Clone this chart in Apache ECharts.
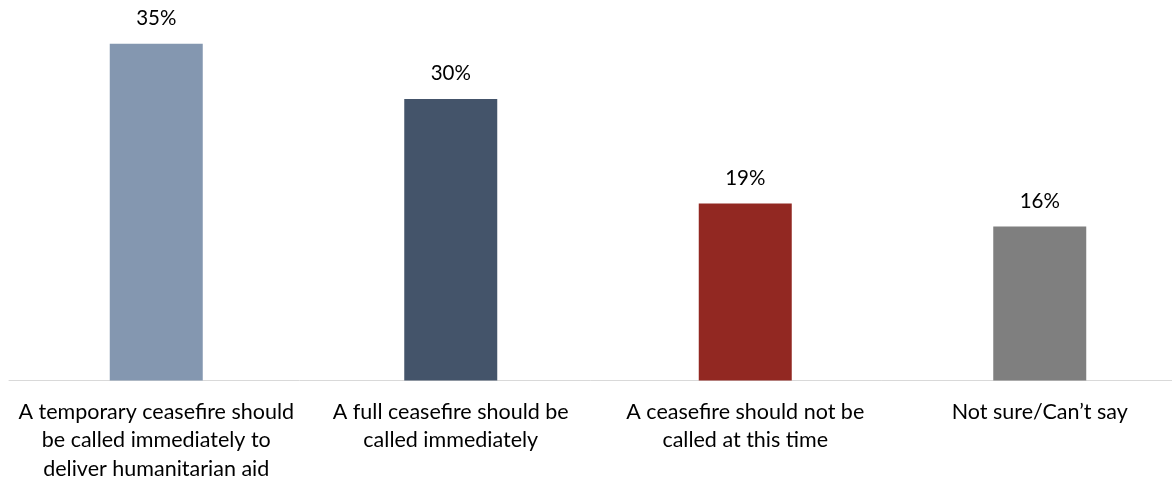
<!DOCTYPE html>
<html>
<head>
<meta charset="utf-8">
<script src="https://cdn.jsdelivr.net/npm/echarts@6/dist/echarts.min.js"></script>
<style>html,body{margin:0;padding:0;background:#fff;}#chart{width:1172px;height:480px;}</style>
</head>
<body>
<div id="chart"></div>
<script>
const categories = [
  "A temporary ceasefire should\nbe called immediately to\ndeliver humanitarian aid",
  "A full ceasefire should be\ncalled immediately",
  "A ceasefire should not be\ncalled at this time",
  "Not sure/Can\u2019t say"
];
const values = [35.4, 29.6, 18.6, 16.2];
const barColors = ["#8497B0", "#44546A", "#922822", "#7F7F7F"];

const chart = echarts.init(document.getElementById('chart'), null, {renderer: 'canvas'});
chart.setOption({
  animation: false,
  grid: {left: 9, top: 0, width: 1178, bottom: 99.5, containLabel: false, outerBoundsMode: 'none'},
  xAxis: {
    type: 'category',
    data: categories,
    axisLine: {show: true, lineStyle: {color: '#D9D9D9', width: 1}},
    axisTick: {show: false},
    axisLabel: {
      interval: 0,
      color: '#000',
      fontFamily: 'Lato',
      fontSize: 21.5,
      lineHeight: 28.5,
      margin: 17
    }
  },
  yAxis: {
    type: 'value',
    min: 0, max: 40,
    show: false,
    splitLine: {show: false}
  },
  series: [{
    type: 'bar',
    barWidth: 93,
    data: values.map((v, i) => ({value: v, itemStyle: {color: barColors[i]}})),
    label: {
      show: true,
      position: 'top',
      distance: 15,
      color: '#000',
      fontFamily: 'Lato',
      fontSize: 20.5,
      formatter: p => Math.round(p.value) + '%'
    }
  }]
});
</script>
</body>
</html>
